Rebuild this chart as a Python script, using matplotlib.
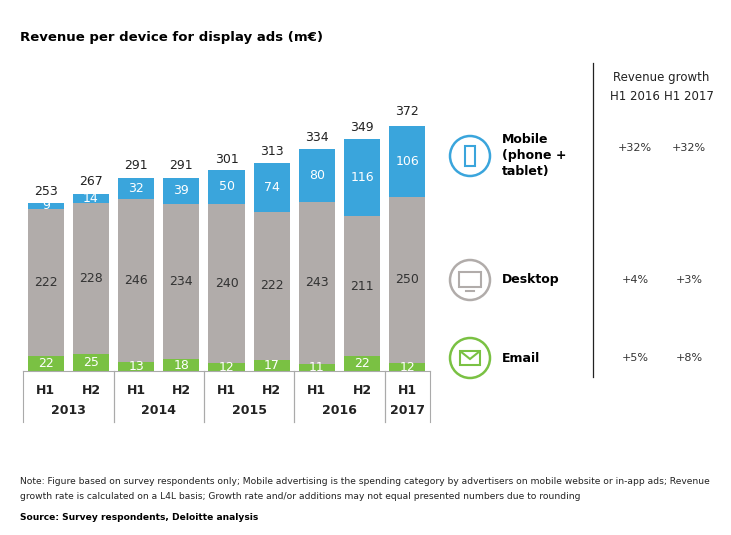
import matplotlib.pyplot as plt
from matplotlib.patches import Ellipse, Rectangle, Polygon
from matplotlib.lines import Line2D

periods = ["H1", "H2", "H1", "H2", "H1", "H2", "H1", "H2", "H1"]
years = ["2013", "2014", "2015", "2016", "2017"]
year_spans = [(0, 1), (2, 3), (4, 5), (6, 7), (8, 8)]
email = [22, 25, 13, 18, 12, 17, 11, 22, 12]
desktop = [222, 228, 246, 234, 240, 222, 243, 211, 250]
mobile = [9, 14, 32, 39, 50, 74, 80, 116, 106]
totals = [253, 267, 291, 291, 301, 313, 334, 349, 372]
growth_16 = ["+32%", "+4%", "+5%"]
growth_17 = ["+32%", "+3%", "+8%"]

BLUE, GREY, GREEN = "#3aa5dc", "#b1acaa", "#7ac143"
W, H = 731, 535

fig = plt.figure(figsize=(W / 100, H / 100), dpi=100)
fig.patch.set_facecolor("white")

def fx(px):
    return px / W

def fy(py):
    return 1 - py / H

ax = fig.add_axes([fx(21), fy(371), fx(432) - fx(21), fy(60) - fy(371)])
x = list(range(len(periods)))
ax.bar(x, email, width=0.8, color=GREEN)
ax.bar(x, desktop, width=0.8, bottom=email, color=GREY)
bot = [e + d for e, d in zip(email, desktop)]
ax.bar(x, mobile, width=0.8, bottom=bot, color=BLUE)
for i in x:
    ax.text(i, email[i] / 2, str(email[i]), ha="center", va="center", color="white", fontsize=9)
    ax.text(i, email[i] + desktop[i] / 2, str(desktop[i]), ha="center", va="center", color="#333333", fontsize=9)
    ax.text(i, bot[i] + mobile[i] / 2, str(mobile[i]), ha="center", va="center", color="white", fontsize=9)
    ax.text(i, totals[i] + 8, str(totals[i]), ha="center", va="bottom", color="#222222", fontsize=9)
ax.set_xlim(-0.55, len(periods) - 0.45)
ax.set_ylim(0, 468)
ax.axis("off")

# category table below bars
lc = "#aaaaaa"
step = (fx(432) - fx(21)) / (len(periods) + 0.1)
def bx(v):
    return fx(21) + (v + 0.55) * step
fig.add_artist(Line2D([bx(-0.5), bx(8.5)], [fy(371)] * 2, color=lc, lw=0.8))
for i, p in enumerate(periods):
    fig.text(bx(i), fy(391), p, ha="center", va="center", fontsize=9, fontweight="bold", color="#222222")
for (a, b), yr in zip(year_spans, years):
    fig.text((bx(a) + bx(b)) / 2, fy(411), yr, ha="center", va="center", fontsize=9, fontweight="bold", color="#222222")
    for e in (a - 0.5, b + 0.5):
        fig.add_artist(Line2D([bx(e)] * 2, [fy(371), fy(422)], color=lc, lw=0.8))

fig.text(fx(20), fy(38), "Revenue per device for display ads (m\u20ac)", fontsize=9.5, fontweight="bold", va="center")

# legend icons
labels = ["Mobile\n(phone +\ntablet)", "Desktop", "Email"]
colors = [BLUE, GREY, GREEN]
ys = [156, 280, 358]
for lab, c, yy in zip(labels, colors, ys):
    fig.add_artist(Ellipse((fx(470), fy(yy)), 40 / W, 40 / H, transform=fig.transFigure, fill=False, ec=c, lw=1.8))
    if lab == labels[0]:
        fig.text(fx(502), fy(133), lab, fontsize=9, fontweight="bold", va="top", linespacing=1.3)
    else:
        fig.text(fx(502), fy(yy), lab, fontsize=9, fontweight="bold", va="center")
# glyphs inside icons
fig.add_artist(Rectangle((fx(465), fy(166)), 10 / W, 20 / H, transform=fig.transFigure, fill=False, ec=BLUE, lw=1.5))
fig.add_artist(Rectangle((fx(459), fy(287)), 22 / W, 15 / H, transform=fig.transFigure, fill=False, ec=GREY, lw=1.5))
fig.add_artist(Line2D([fx(466), fx(474)], [fy(291)] * 2, color=GREY, lw=1.5))
fig.add_artist(Rectangle((fx(460), fy(365)), 20 / W, 14 / H, transform=fig.transFigure, fill=False, ec=GREEN, lw=1.5))
fig.add_artist(Polygon([(fx(460), fy(351)), (fx(470), fy(359)), (fx(480), fy(351))], closed=False, fill=False,
                       transform=fig.transFigure, ec=GREEN, lw=1.5))

# growth table
fig.add_artist(Line2D([fx(593)] * 2, [fy(63), fy(377)], color="#222222", lw=0.9))
fig.text(fx(661), fy(77), "Revenue growth", ha="center", va="center", fontsize=8.5, color="#222222")
fig.text(fx(635), fy(97), "H1 2016", ha="center", va="center", fontsize=8.5, color="#222222")
fig.text(fx(689), fy(97), "H1 2017", ha="center", va="center", fontsize=8.5, color="#222222")
for g16, g17, yy in zip(growth_16, growth_17, [148, 280, 358]):
    fig.text(fx(635), fy(yy), g16, ha="center", va="center", fontsize=8, color="#333333")
    fig.text(fx(689), fy(yy), g17, ha="center", va="center", fontsize=8, color="#333333")

note = ("Note: Figure based on survey respondents only; Mobile advertising is the spending category by advertisers on mobile website or in-app ads; Revenue\n"
        "growth rate is calculated on a L4L basis; Growth rate and/or additions may not equal presented numbers due to rounding")
fig.text(fx(20), fy(489), note, fontsize=6.6, va="center", linespacing=1.9, color="#222222")
fig.text(fx(20), fy(517), "Source: Survey respondents, Deloitte analysis", fontsize=6.6, fontweight="bold", va="center")

fig.savefig("out.png", dpi=100)
